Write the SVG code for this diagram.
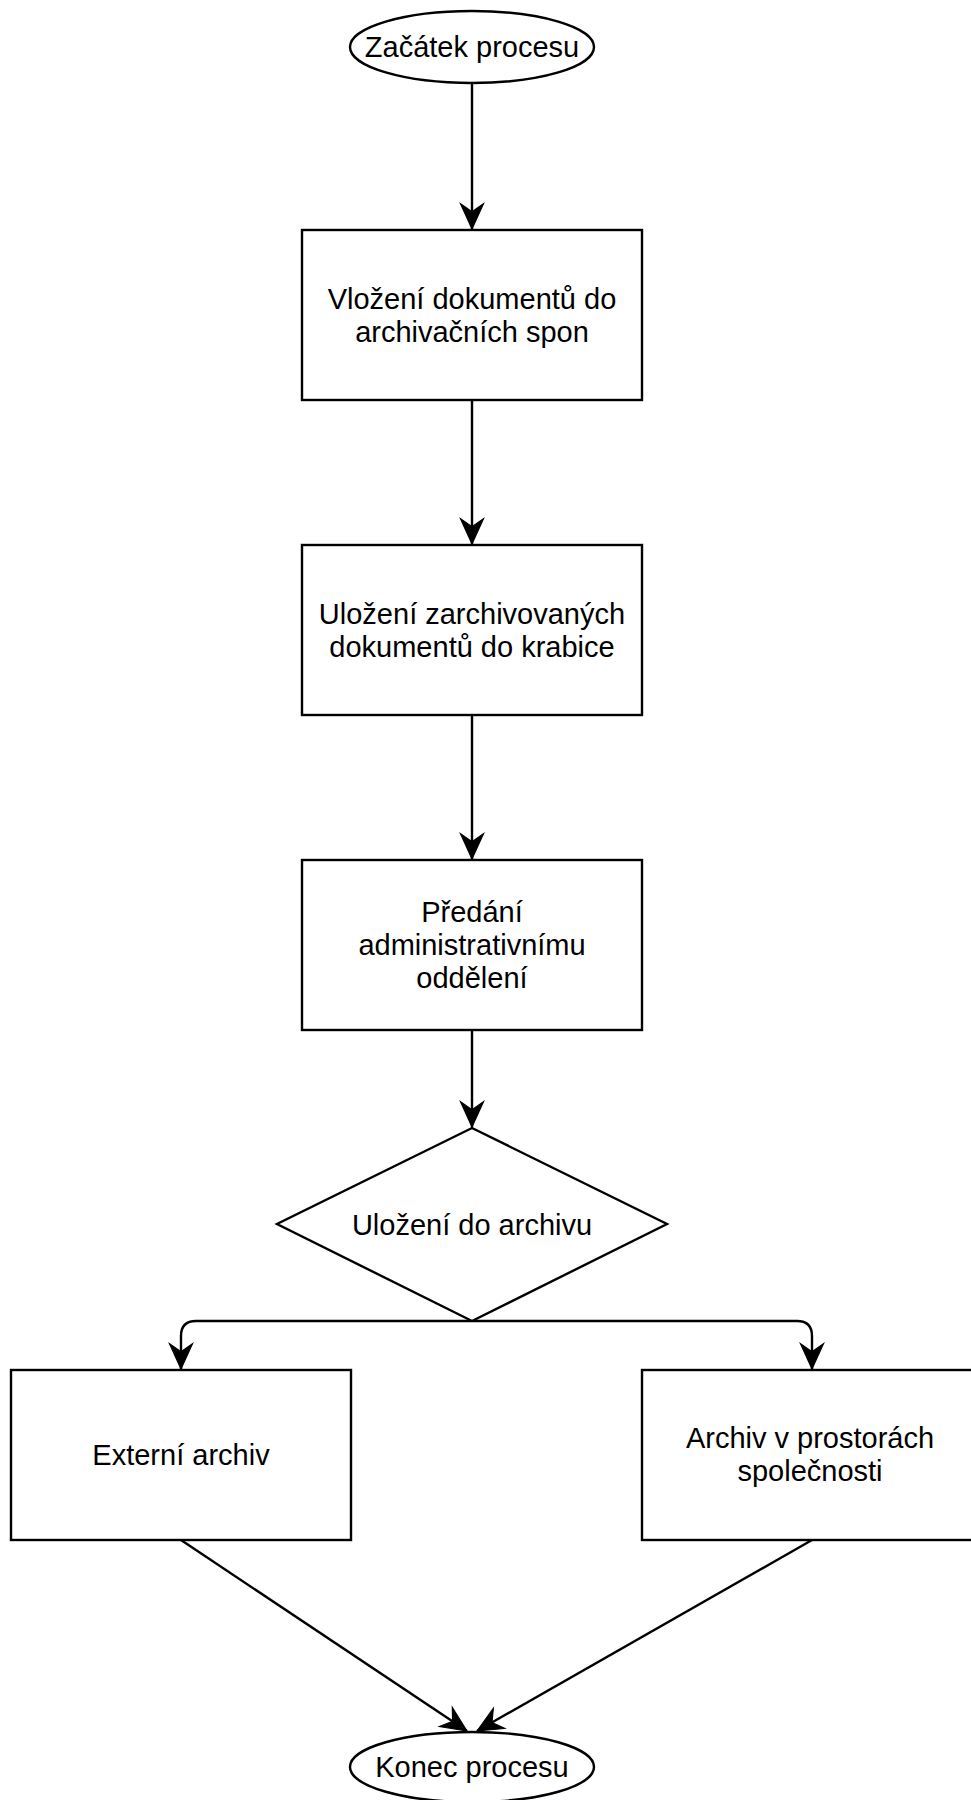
<svg xmlns="http://www.w3.org/2000/svg" width="971" height="1800" viewBox="0 0 971 1800">
<style>
.shape{fill:#fff;stroke:#000;stroke-width:2.4}
.lbl{font-family:"Liberation Sans",Arial,sans-serif;font-size:29px;fill:#000;text-anchor:middle}
.edge{fill:none;stroke:#000;stroke-width:2.4}
</style>
<defs>
<marker id="arr" markerUnits="userSpaceOnUse" markerWidth="30" markerHeight="30" viewBox="-24 -12 26 24" refX="0" refY="0" orient="auto">
<path d="M0,0 L-22,-10 L-15,0 L-22,10 Z" fill="#000" stroke="#000" stroke-width="1"/>
</marker>
</defs>
<rect width="971" height="1800" fill="#fff"/>
<g id="connectors">
<path class="edge" d="M472,83 V229" marker-end="url(#arr)"/>
<path class="edge" d="M472,400 V544" marker-end="url(#arr)"/>
<path class="edge" d="M472,715 V859" marker-end="url(#arr)"/>
<path class="edge" d="M472,1030 V1127" marker-end="url(#arr)"/>
<path class="edge" d="M472,1321 H196 Q181,1321 181,1336 V1369" marker-end="url(#arr)"/>
<path class="edge" d="M472,1321 H797 Q812,1321 812,1336 V1369" marker-end="url(#arr)"/>
<path class="edge" d="M181,1540 L467,1731" marker-end="url(#arr)"/>
<path class="edge" d="M812,1540 L477,1731" marker-end="url(#arr)"/>
</g>
<g id="start">
<ellipse class="shape" cx="472" cy="47" rx="122" ry="36"/>
<text class="lbl" x="472" y="57">Začátek procesu</text>
</g>
<g id="step1">
<rect class="shape" x="302" y="230" width="340" height="170"/>
<text class="lbl" x="472" y="309">Vložení dokumentů do</text>
<text class="lbl" x="472" y="342">archivačních spon</text>
</g>
<g id="step2">
<rect class="shape" x="302" y="545" width="340" height="170"/>
<text class="lbl" x="472" y="624">Uložení zarchivovaných</text>
<text class="lbl" x="472" y="657">dokumentů do krabice</text>
</g>
<g id="step3">
<rect class="shape" x="302" y="860" width="340" height="170"/>
<text class="lbl" x="472" y="922">Předání</text>
<text class="lbl" x="472" y="955">administrativnímu</text>
<text class="lbl" x="472" y="988">oddělení</text>
</g>
<g id="decision">
<polygon class="shape" points="472,1128 667,1224 472,1321 277,1224"/>
<text class="lbl" x="472" y="1235">Uložení do archivu</text>
</g>
<g id="external">
<rect class="shape" x="11" y="1370" width="340" height="170"/>
<text class="lbl" x="181" y="1465">Externí archiv</text>
</g>
<g id="internal">
<rect class="shape" x="642" y="1370" width="340" height="170"/>
<text class="lbl" x="810" y="1448">Archiv v prostorách</text>
<text class="lbl" x="810" y="1481">společnosti</text>
</g>
<g id="end">
<ellipse class="shape" cx="472" cy="1767" rx="122" ry="35"/>
<text class="lbl" x="472" y="1777">Konec procesu</text>
</g>
</svg>
